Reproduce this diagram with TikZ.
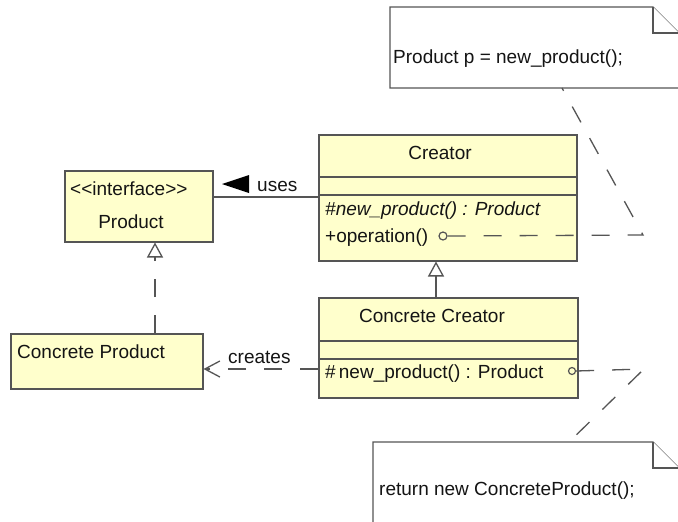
\documentclass[tikz,border=0pt]{standalone}
\usepackage{fontspec}
\setmainfont{Liberation Sans}
\usetikzlibrary{arrows.meta,calc}
\definecolor{classfill}{RGB}{255,255,204}
\definecolor{edgegray}{RGB}{85,85,85}
\definecolor{inkgray}{RGB}{20,20,20}
\begin{document}
\begin{tikzpicture}[x=1pt,y=-1pt,
  umlfont/.style={font=\fontsize{19}{22}\selectfont},
  cls/.style={draw=edgegray, line width=1.5pt, fill=classfill, rectangle,
    inner sep=0pt, anchor=north west},
  compart/.style={draw=edgegray, line width=1.5pt},
  txt/.style={umlfont, anchor=base west, inner sep=0pt, text=inkgray},
  ctxt/.style={umlfont, anchor=base, inner sep=0pt, text=inkgray},
  notebox/.style={draw=edgegray, line width=1.3pt, fill=white},
  link/.style={draw=edgegray, line width=1.3pt},
  dashlink/.style={link, dash pattern=on 18pt off 18pt},
  anchordot/.style={circle, draw=edgegray, line width=1.2pt, fill=classfill,
    inner sep=0pt, minimum size=#1},
  realize/.style={-{Triangle[open, length=15pt, width=16pt, line width=1.3pt, fill=white]}},
  depend/.style={-{Straight Barb[length=15pt, width=16pt, line width=1.3pt]}}
]
\clip (0,0) rectangle (678,522);
\fill[white] (0,0) rectangle (678,522);

% ---- note attached to operation()
\draw[notebox] (390,7) -- (653,7) -- (690,44) -- (690,88) -- (390,88) -- cycle;
\draw[notebox] (653,7) -- (653,33) -- (679,33);
\node[txt] (note1) at (393,63) {Product p = new\_product();};
\coordinate (note1foot) at (562,88);

% ---- note attached to the concrete factory method
\draw[notebox] (373,442) -- (653,442) -- (690,479) -- (690,540) -- (373,540) -- cycle;
\draw[notebox] (653,442) -- (653,468) -- (679,468);
\node[txt] (note2) at (379,495) {return new ConcreteProduct();};
\coordinate (note2head) at (569,442);

% ---- Product interface
\node[cls, minimum width=148pt, minimum height=71pt] (iprod) at (64,170) {};
\node[txt] (iprodstereo) at (70,195) {<{}<interface>{}>};
\node[ctxt] (iprodname) at (131,228) {Product};

% ---- Concrete Product
\node[cls, minimum width=192pt, minimum height=55pt] (cprod) at (10,333) {};
\node[txt] (cprodname) at (17,358) {Concrete Product};

% ---- Creator
\node[cls, minimum width=258pt, minimum height=126pt] (creator) at (318,134) {};
\draw[compart] (318,177) -- (576,177);
\draw[compart] (318,195) -- (576,195);
\node[ctxt] (creatorname) at (440,159) {Creator};
\node[txt, font=\fontsize{19}{22}\selectfont\itshape] (creatorm1) at (325,215) {\#new\_product() : Product};
\node[txt] (creatorm2) at (325,242) {+operation()};

% ---- Concrete Creator
\node[cls, minimum width=259pt, minimum height=100pt] (ccreator) at (318,297) {};
\draw[compart] (318,341) -- (577,341);
\draw[compart] (318,359) -- (577,359);
\node[ctxt] (ccreatorname) at (432,322) {Concrete Creator};
\node[txt] (ccreatorm1) at (325,378) {\#\,new\_product() : Product};

% ---- uses association
\coordinate (usesrow) at (0,197);
\draw[link] (iprod.east |- usesrow) -- (creator.west |- usesrow);
\fill[black] (222,184) -- (249,175) -- (249,193) -- cycle;
\node[txt] (useslbl) at (257,191) {uses};

% ---- realization: Concrete Product implements Product
\draw[dashlink, realize] ($(cprod.north west)+(145,0)$) -- ($(iprod.south west)+(91,0)$);

% ---- generalization: Concrete Creator extends Creator
\draw[link, realize] ($(ccreator.north west)+(118,0)$) -- ($(creator.south west)+(118,0)$);

% ---- creates dependency
\coordinate (createsrow) at (0,369);
\draw[dashlink, depend] (ccreator.west |- createsrow) -- (cprod.east |- createsrow);
\node[txt] (createslbl) at (228,363) {creates};

% ---- note links
\node[anchordot=8pt] (opdot) at (443,236) {};
\coordinate (bend1) at (643,235);
\draw[dashlink] (opdot.east) -- (bend1) -- (note1foot);

\node[anchordot=7pt] (fmdot) at (572,371) {};
\coordinate (bend2) at (644,369);
\draw[dashlink] (fmdot.east) -- (bend2) -- (note2head);
\end{tikzpicture}
\end{document}
